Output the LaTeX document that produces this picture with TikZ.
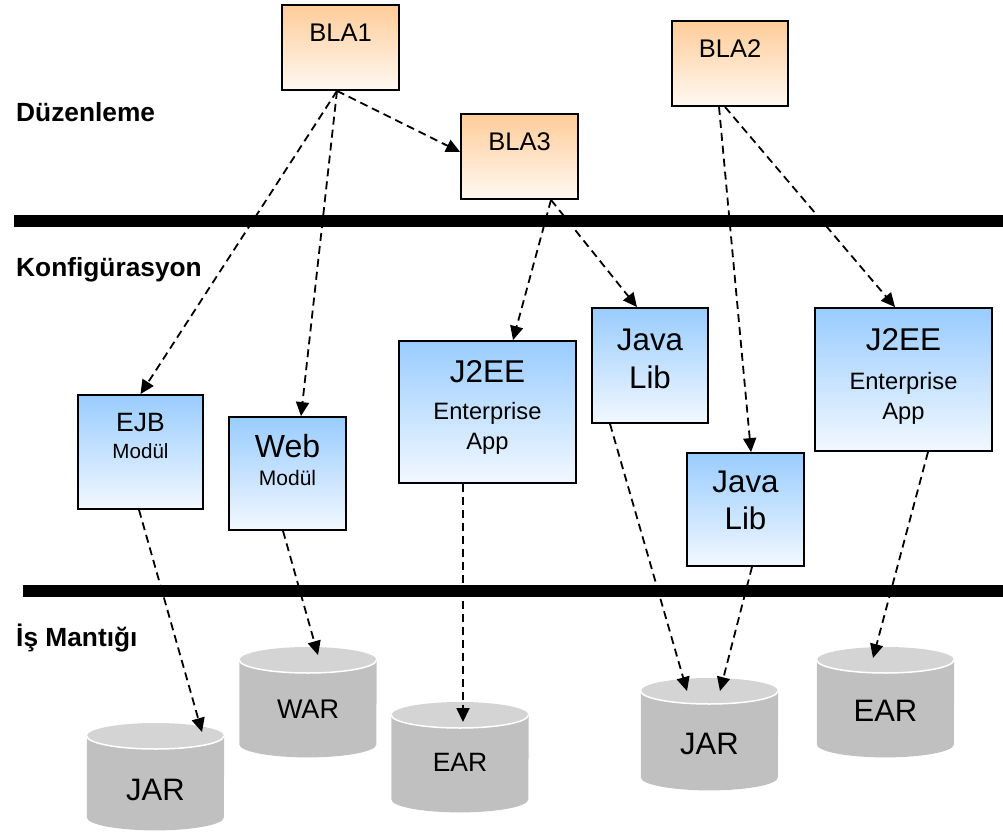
\documentclass[tikz,border=0pt]{standalone}
\usepackage{fontspec}
\setmainfont{Liberation Sans}
\usetikzlibrary{arrows.meta,calc}
\definecolor{bluetop}{HTML}{99CCFF}
\definecolor{bluebot}{HTML}{F2F8FF}
\definecolor{orgtop}{HTML}{FFCC99}
\definecolor{orgbot}{HTML}{FFF9F2}
\definecolor{drumside}{HTML}{C0C0C0}
\definecolor{drumlid}{HTML}{D4D4D4}
\tikzset{
  fsz/.style={font=\fontsize{#1pt}{#1pt}\selectfont},
  bfsz/.style={font=\fontsize{#1pt}{#1pt}\selectfont\bfseries},
  bbox/.style={draw=black, line width=1.8pt, top color=bluetop, bottom color=bluebot, inner sep=0pt},
  obox/.style={draw=black, line width=1.8pt, top color=orgtop, bottom color=orgbot, inner sep=0pt},
  lbl/.style={anchor=base, inner sep=0pt},
  layerlbl/.style={anchor=base west, inner sep=0pt, bfsz=26.3},
  bar/.style={line width=12pt},
  dep/.style={line width=1.8pt, dash pattern=on 8pt off 5pt, -{Triangle[length=14pt,width=13pt]}},
  drumnode/.style={inner sep=0pt, minimum width=137pt, anchor=north},
}
\newcommand{\drum}[1]{%
  \fill[drumside] ([yshift=-13pt]#1.north west) -- ([yshift=13pt]#1.south west)
     arc[start angle=180,end angle=360,x radius=68.5pt,y radius=13pt]
     -- ([yshift=-13pt]#1.north east) -- cycle;
  \fill[drumlid] ([yshift=-13pt]#1.north) ellipse[x radius=68.5pt, y radius=13pt];
  \draw[white, line width=1.5pt] ([yshift=-13pt]#1.north west)
     arc[start angle=180,end angle=360,x radius=68.5pt,y radius=13pt];
}
\begin{document}
\begin{tikzpicture}[x=1pt,y=1pt]
\useasboundingbox (0,0) rectangle (1003,831);

% layer separators
\coordinate (barAl) at (14,610);
\coordinate (barAr) at (1003,610);
\coordinate (barBl) at (23,240);
\coordinate (barBr) at (1003,240);
\draw[bar] (barAl) -- (barAr);
\draw[bar] (barBl) -- (barBr);

% layer labels
\node[layerlbl] (lDuz) at (16,709) {Düzenleme};
\node[layerlbl] (lKonf) at (16,554) {Konfigürasyon};
\node[layerlbl] (lIs) at (16,185) {İş Mantığı};

% BLA boxes
\node[obox, minimum width=117pt, minimum height=85pt] (bla1) at (340.5,783.5) {};
\node[obox, minimum width=117pt, minimum height=85pt] (bla3) at (519.5,674.5) {};
\node[obox, minimum width=116pt, minimum height=85pt] (bla2) at (730,767.5) {};
\node[lbl, fsz=25.5] (bla1t) at ([yshift=-37.7pt]bla1.north) {BLA1};
\node[lbl, fsz=25.5] (bla3t) at ([yshift=-37.7pt]bla3.north) {BLA3};
\node[lbl, fsz=25.5] (bla2t) at ([yshift=-37.3pt]bla2.north) {BLA2};

% configuration boxes
\node[bbox, minimum width=125pt, minimum height=114pt] (ejb) at (140.5,379) {};
\node[lbl, fsz=26.5] (ejbt) at ([yshift=-37.7pt]ejb.north) {EJB};
\node[lbl, fsz=20.6] (ejbs) at ([yshift=-64.3pt]ejb.north) {Modül};

\node[bbox, minimum width=117pt, minimum height=113pt] (web) at (287.5,357.5) {};
\node[lbl, fsz=32] (webt) at ([yshift=-41.3pt]web.north) {Web};
\node[lbl, fsz=21] (webs) at ([yshift=-69.7pt]web.north) {Modül};

\node[bbox, minimum width=177pt, minimum height=142pt] (j2a) at (487.5,419) {};
\node[lbl, fsz=31.5] (j2at) at ([yshift=-42.3pt]j2a.north) {J2EE};
\node[lbl, fsz=23.7] (j2as) at ([yshift=-79.7pt]j2a.north) {Enterprise};
\node[lbl, fsz=23.7] (j2au) at ([yshift=-109pt]j2a.north) {App};

\node[bbox, minimum width=116pt, minimum height=115pt] (jl1) at (650,465.5) {};
\node[lbl, fsz=31.3] (jl1t) at ([yshift=-43.7pt]jl1.north) {Java};
\node[lbl, fsz=31.3] (jl1s) at ([yshift=-81.3pt]jl1.north) {Lib};

\node[bbox, minimum width=177pt, minimum height=143pt] (j2b) at (903.5,451.5) {};
\node[lbl, fsz=31.5] (j2bt) at ([yshift=-43.7pt]j2b.north) {J2EE};
\node[lbl, fsz=23.7] (j2bs) at ([yshift=-82pt]j2b.north) {Enterprise};
\node[lbl, fsz=23.7] (j2bu) at ([yshift=-112pt]j2b.north) {App};

\node[bbox, minimum width=117pt, minimum height=113pt] (jl2) at (745.5,321.5) {};
\node[lbl, fsz=31.3] (jl2t) at ([yshift=-40.3pt]jl2.north) {Java};
\node[lbl, fsz=31.3] (jl2s) at ([yshift=-77pt]jl2.north) {Lib};

% archives (drums)
\node[drumnode, minimum height=107pt] (jarA) at (155.5,108) {};
\node[drumnode, minimum height=110pt] (war) at (308,184) {};
\node[drumnode, minimum height=110pt] (earA) at (460,129) {};
\node[drumnode, minimum height=112pt] (jarB) at (709.5,153) {};
\node[drumnode, minimum height=110pt] (earB) at (885.5,184) {};
\drum{jarA}
\drum{war}
\drum{earA}
\drum{jarB}
\drum{earB}
\node[lbl, fsz=31] (jarAt) at (155.5,31) {JAR};
\node[lbl, fsz=27] (wart) at (308,113) {WAR};
\node[lbl, fsz=26.5] (earAt) at (460,59.3) {EAR};
\node[lbl, fsz=31] (jarBt) at (709.5,77) {JAR};
\node[lbl, fsz=31] (earBt) at (885.5,109.3) {EAR};

% dependencies
\draw[dep] ([xshift=-3.5pt]bla1.south) -- ([yshift=4.5pt]bla3.west);
\draw[dep] ([xshift=-3.5pt]bla1.south) -- (ejb.north);
\draw[dep] ([xshift=-3.5pt]bla1.south) -- ([xshift=13.5pt]web.north);
\draw[dep] ([xshift=31.5pt]bla3.south) -- ([xshift=25.5pt]j2a.north);
\draw[dep] ([xshift=31.5pt]bla3.south) -- ([xshift=-13pt]jl1.north);
\draw[dep] ([xshift=-11pt]bla2.south) -- ([xshift=5.5pt]jl2.north);
\draw[dep] ([xshift=-5pt]bla2.south) -- ([xshift=-8.5pt]j2b.north);
\draw[dep] ([xshift=-1.5pt]ejb.south) -- ([xshift=46.5pt,yshift=-9pt]jarA.north);
\draw[dep] ([xshift=-4.5pt]web.south) -- ([xshift=10pt,yshift=-8pt]war.north);
\draw[dep] ([xshift=-24.5pt]j2a.south) -- ([xshift=3pt,yshift=-20pt]earA.north);
\draw[dep] ([xshift=-40pt]jl1.south) -- ([xshift=-22.5pt,yshift=-13pt]jarB.north);
\draw[dep] ([xshift=6.5pt]jl2.south) -- ([xshift=10.5pt,yshift=-13pt]jarB.north);
\draw[dep] ([xshift=24.5pt]j2b.south) -- ([xshift=-12.5pt,yshift=-11pt]earB.north);
\end{tikzpicture}
\end{document}
